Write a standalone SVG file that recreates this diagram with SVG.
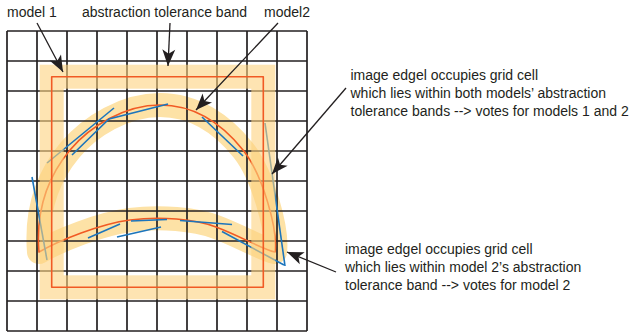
<svg xmlns="http://www.w3.org/2000/svg" width="629" height="333" viewBox="0 0 629 333">
<style>
text{font-family:"Liberation Sans",Arial,sans-serif;font-size:14px;fill:#231f20}
.grid line{stroke:#231f20;stroke-width:1.7}
.band{fill:none;stroke:#fde2a6;stroke-width:24}
.band1{fill:none;stroke:#fdd27f;stroke-opacity:0.6;stroke-width:24;stroke-linejoin:miter}
.model{fill:none;stroke:#f15a24;stroke-width:1.6;stroke-linejoin:round}
.edgel{fill:none;stroke:#1c75bc;stroke-width:1.6}
.conn{fill:none;stroke:#231f20;stroke-width:1.3}
</style>
<defs>
<marker id="ah" markerUnits="userSpaceOnUse" markerWidth="20" markerHeight="20" viewBox="-15 -8 17 16" refX="0" refY="0" orient="auto">
<path d="M0,0 L-14,-5.5 L-10.5,0 L-14,5.5 Z" fill="#231f20"/>
</marker>
</defs>
<rect width="629" height="333" fill="#fff"/>
<g id="model2-band">
<path class="band" stroke-linejoin="round" d="M39,252 C36,215 45,180 70,150 C90,126 125,105 160,105 C195,105 223,125 243,150 C263,175 278,230 275,252 C262,249 240,236 216,227 C195,219 160,216 130,220 C100,224 60,240 39,252 Z"/>
</g>
<g class="grid" id="grid">
<line x1="7" y1="31" x2="7" y2="331"/><line x1="37" y1="31" x2="37" y2="331"/><line x1="67" y1="31" x2="67" y2="331"/><line x1="97" y1="31" x2="97" y2="331"/><line x1="127" y1="31" x2="127" y2="331"/><line x1="157" y1="31" x2="157" y2="331"/><line x1="187" y1="31" x2="187" y2="331"/><line x1="217" y1="31" x2="217" y2="331"/><line x1="247" y1="31" x2="247" y2="331"/><line x1="277" y1="31" x2="277" y2="331"/><line x1="307" y1="31" x2="307" y2="331"/>
<line x1="7" y1="31" x2="307" y2="31"/><line x1="7" y1="61" x2="307" y2="61"/><line x1="7" y1="91" x2="307" y2="91"/><line x1="7" y1="121" x2="307" y2="121"/><line x1="7" y1="151" x2="307" y2="151"/><line x1="7" y1="181" x2="307" y2="181"/><line x1="7" y1="211" x2="307" y2="211"/><line x1="7" y1="241" x2="307" y2="241"/><line x1="7" y1="271" x2="307" y2="271"/><line x1="7" y1="301" x2="307" y2="301"/><line x1="7" y1="331" x2="307" y2="331"/>
</g>
<g id="model2">
<path class="model" d="M39,252 C36,215 45,180 70,150 C90,126 125,105 160,105 C195,105 223,125 243,150 C263,175 278,230 275,252 C262,249 240,236 216,227 C195,219 160,216 130,220 C100,224 60,240 39,252 Z"/>
</g>
<g id="edgels">
<line class="edgel" x1="47" y1="163" x2="114" y2="108"/>
<polyline class="edgel" points="72,155 109,119 168,104"/>
<line class="edgel" x1="32" y1="177" x2="47" y2="260"/>
<line class="edgel" x1="202" y1="117" x2="243" y2="156"/>
<line class="edgel" x1="265" y1="123" x2="285" y2="266"/>
<line class="edgel" x1="88" y1="238" x2="120" y2="224"/>
<line class="edgel" x1="117" y1="237" x2="161" y2="227"/>
<line class="edgel" x1="131" y1="221" x2="167" y2="219.5"/>
<line class="edgel" x1="180" y1="220.5" x2="232" y2="224.5"/>
<line class="edgel" x1="222" y1="231.5" x2="284" y2="265"/>
</g>
<g id="model1">
<rect class="band1" x="51.7" y="76.7" width="211.6" height="210.6"/>
<rect class="model" x="51.7" y="76.7" width="211.6" height="210.6"/>
</g>
<g id="connectors">
<line class="conn" x1="37" y1="23" x2="63" y2="72" marker-end="url(#ah)"/>
<line class="conn" x1="170" y1="23" x2="168" y2="66" marker-end="url(#ah)"/>
<line class="conn" x1="278" y1="23" x2="196" y2="110" marker-end="url(#ah)"/>
<line class="conn" x1="346" y1="88" x2="272" y2="174" marker-end="url(#ah)"/>
<line class="conn" x1="336" y1="272" x2="287" y2="252" marker-end="url(#ah)"/>
</g>
<g id="label-model1"><text x="7" y="17">model 1</text></g>
<g id="label-band"><text x="82" y="17">abstraction tolerance band</text></g>
<g id="label-model2"><text x="264" y="17">model2</text></g>
<g id="label-both">
<text x="350.5" y="80">image edgel occupies grid cell</text>
<text x="350.5" y="98">which lies within both models’ abstraction</text>
<text x="350.5" y="116">tolerance bands --&gt; votes for models 1 and 2</text>
</g>
<g id="label-model2only">
<text x="345" y="254">image edgel occupies grid cell</text>
<text x="345" y="272">which lies within model 2’s abstraction</text>
<text x="345" y="290">tolerance band --&gt; votes for model 2</text>
</g>
</svg>
